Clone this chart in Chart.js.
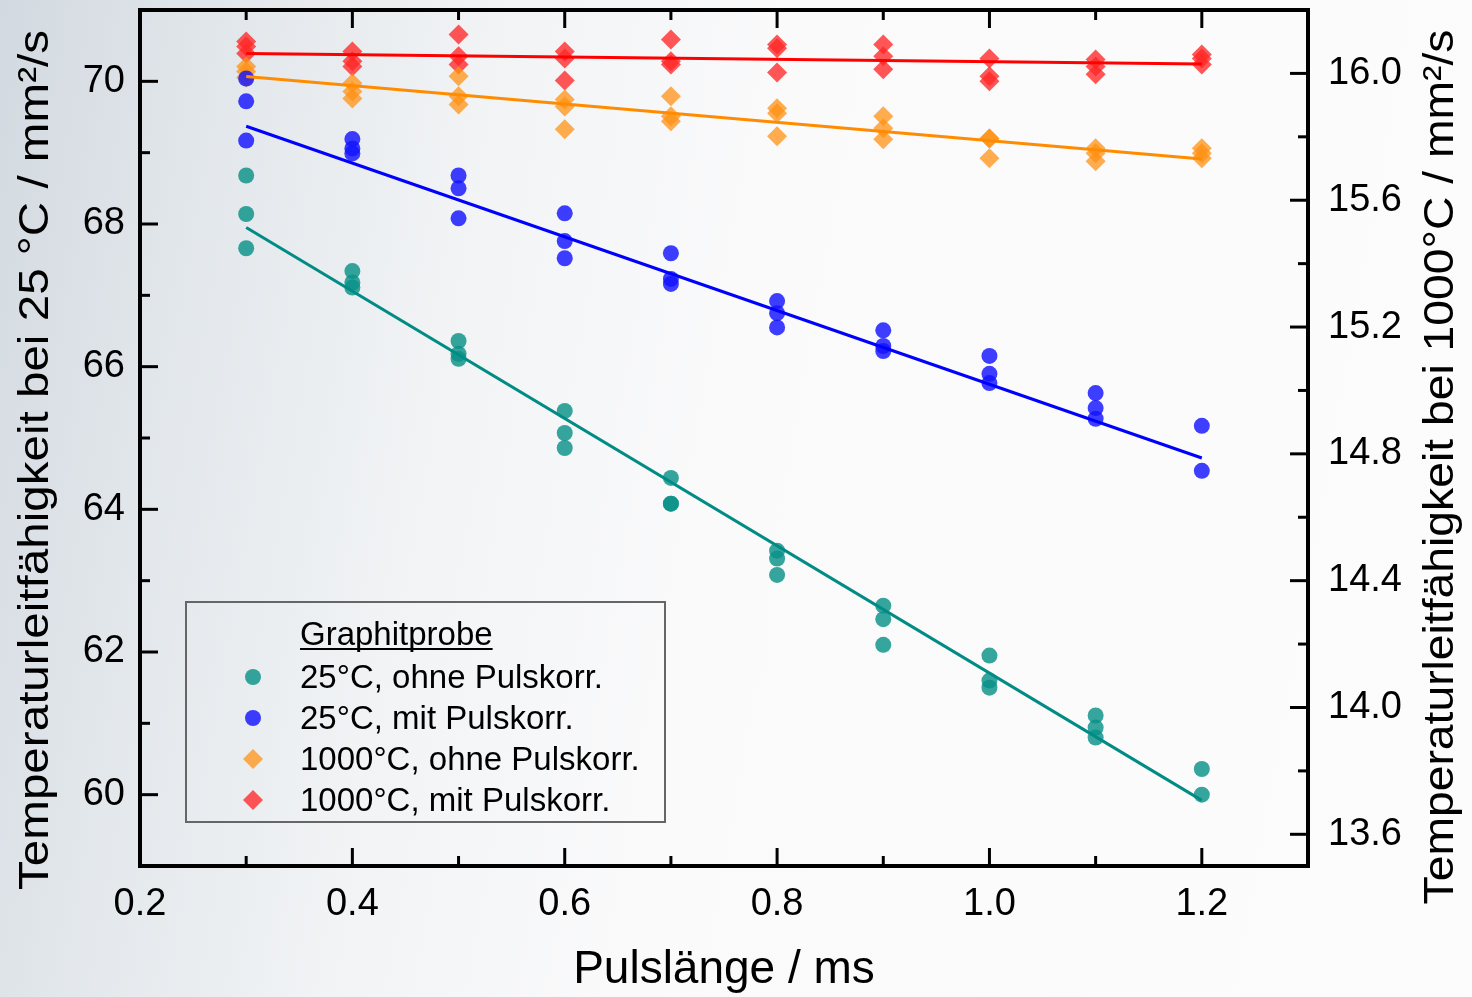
<!DOCTYPE html>
<html>
<head>
<meta charset="utf-8">
<script src="https://cdn.jsdelivr.net/npm/chart.js@4.4.1/dist/chart.umd.min.js"></script>
<style>
  html, body { margin: 0; padding: 0; }
  body {
    width: 1472px; height: 997px; overflow: hidden;
    background: linear-gradient(100deg, #d2d9e0 0%, #e2e7eb 14%, #f1f3f5 30%, #fafafb 48%, #fcfcfc 100%);
  }
  #wrap { position: relative; width: 1472px; height: 997px; }
</style>
</head>
<body>
<div id="wrap"><canvas id="tlfChart" width="1472" height="997"></canvas></div>
<script>
// Pulslängen (ms) der Messungen
const pulseLengths = [0.3, 0.4, 0.5, 0.6, 0.7, 0.8, 0.9, 1.0, 1.1, 1.2];

// 25°C (linke Achse), je Pulslänge die Einzelmessungen
const rtOhne = [
  [68.68, 68.14, 67.66], [67.34, 67.18, 67.11], [66.36, 66.18, 66.11], [65.38, 65.07, 64.86],
  [64.44, 64.08, 64.08], [63.42, 63.31, 63.08], [62.65, 62.46, 62.10], [61.95, 61.60, 61.50],
  [61.11, 60.94, 60.80], [60.36, 60.00]
];
const rtMit = [
  [70.04, 69.72, 69.17], [69.19, 69.06, 68.99], [68.68, 68.50, 68.08], [68.15, 67.76, 67.52],
  [67.59, 67.23, 67.16], [66.92, 66.75, 66.55], [66.51, 66.29, 66.22], [66.15, 65.90, 65.77],
  [65.63, 65.42, 65.27], [65.17, 64.54]
];

// 1000°C (rechte Achse)
const htOhne = [
  [16.022, 16.006, 15.987], [15.969, 15.943, 15.921], [15.991, 15.928, 15.902], [15.918, 15.896, 15.824],
  [15.928, 15.865, 15.849], [15.890, 15.874, 15.802], [15.865, 15.827, 15.792], [15.795, 15.795, 15.732],
  [15.764, 15.748, 15.723], [15.764, 15.748, 15.732]
];
const htMit = [
  [16.101, 16.085, 16.063], [16.069, 16.038, 16.022], [16.123, 16.054, 16.028], [16.069, 16.047, 15.978],
  [16.107, 16.038, 16.028], [16.091, 16.079, 16.003], [16.091, 16.054, 16.013], [16.047, 15.991, 15.975],
  [16.044, 16.022, 15.997], [16.060, 16.047, 16.028]
];

// Ausgleichsgeraden (Endpunkte)
const fitX = [0.3, 1.2];
const fitRtOhne = [67.95, 59.92];
const fitRtMit = [69.37, 64.72];
const fitHtOhne = [15.99, 15.73];
const fitHtMit = [16.063, 16.03];

// Achsen
const xTicks = [0.2, 0.4, 0.6, 0.8, 1.0, 1.2];
const xMinor = [0.3, 0.5, 0.7, 0.9, 1.1];
const leftTicks = [60, 62, 64, 66, 68, 70];
const leftMinor = [61, 63, 65, 67, 69];
const rightTicks = [13.6, 14.0, 14.4, 14.8, 15.2, 15.6, 16.0];
const rightMinor = [13.8, 14.2, 14.6, 15.0, 15.4, 15.8];

const xTitle = "Pulslänge / ms";
const yLeftTitle = "Temperaturleitfähigkeit bei 25 °C / mm²/s";
const yRightTitle = "Temperaturleitfähigkeit bei 1000°C / mm²/s";
const legendTitle = "Graphitprobe";

const FONT = '"Liberation Sans", Arial, sans-serif';

const toPoints = (groups) => pulseLengths.flatMap((x, i) => groups[i].map((y) => ({ x, y })));
const toLine = (ys) => fitX.map((x, i) => ({ x, y: ys[i] }));

const frameAndTicks = {
  id: "frameAndTicks",
  afterDatasetsDraw(chart) {
    const { ctx, chartArea: a, scales } = chart;
    ctx.save();
    ctx.strokeStyle = "#000";
    ctx.lineWidth = 3;
    const line = (x1, y1, x2, y2) => {
      ctx.beginPath();
      ctx.moveTo(x1, y1);
      ctx.lineTo(x2, y2);
      ctx.stroke();
    };
    xTicks.forEach((v) => {
      const px = scales.x.getPixelForValue(v);
      line(px, a.bottom, px, a.bottom - 18);
      line(px, a.top, px, a.top + 18);
    });
    xMinor.forEach((v) => {
      const px = scales.x.getPixelForValue(v);
      line(px, a.bottom, px, a.bottom - 10);
      line(px, a.top, px, a.top + 10);
    });
    leftTicks.forEach((v) => {
      const py = scales.yL.getPixelForValue(v);
      line(a.left, py, a.left + 18, py);
    });
    leftMinor.forEach((v) => {
      const py = scales.yL.getPixelForValue(v);
      line(a.left, py, a.left + 10, py);
    });
    rightTicks.forEach((v) => {
      const py = scales.yR.getPixelForValue(v);
      line(a.right, py, a.right - 18, py);
    });
    rightMinor.forEach((v) => {
      const py = scales.yR.getPixelForValue(v);
      line(a.right, py, a.right - 10, py);
    });
    ctx.lineWidth = 4;
    ctx.strokeRect(a.left, a.top, a.right - a.left, a.bottom - a.top);
    ctx.restore();
  },
};

const axisTitles = {
  id: "axisTitles",
  afterDraw(chart) {
    const { ctx, chartArea: a } = chart;
    const stretched = (text, size, length) => {
      ctx.font = size + "px " + FONT;
      const w = ctx.measureText(text).width;
      ctx.scale(length / w, 1);
      ctx.fillText(text, 0, 0);
    };
    ctx.save();
    ctx.fillStyle = "#000";
    ctx.textAlign = "center";
    ctx.textBaseline = "alphabetic";
    ctx.font = "46px " + FONT;
    ctx.fillText(xTitle, (a.left + a.right) / 2, 983);
    ctx.restore();

    ctx.save();
    ctx.fillStyle = "#000";
    ctx.textAlign = "center";
    ctx.translate(48, 460);
    ctx.rotate(-Math.PI / 2);
    stretched(yLeftTitle, 42, 860);
    ctx.restore();

    ctx.save();
    ctx.fillStyle = "#000";
    ctx.textAlign = "center";
    ctx.translate(1453, 467);
    ctx.rotate(-Math.PI / 2);
    stretched(yRightTitle, 42, 875);
    ctx.restore();
  },
};

const boxLegend = {
  id: "boxLegend",
  afterDraw(chart) {
    const { ctx } = chart;
    ctx.save();
    ctx.strokeStyle = "#666";
    ctx.lineWidth = 2;
    ctx.strokeRect(186, 602, 479, 220);
    ctx.fillStyle = "#000";
    ctx.font = "33px " + FONT;
    ctx.textBaseline = "alphabetic";
    ctx.textAlign = "left";
    ctx.fillText(legendTitle, 300, 645);
    const tw = ctx.measureText(legendTitle).width;
    ctx.fillRect(300, 648, tw, 2);
    chart.data.datasets
      .filter((ds) => !ds.showLine)
      .forEach((ds, i) => {
        const cy = 677 + i * 41;
        ctx.fillStyle = ds.pointBackgroundColor;
        ctx.beginPath();
        if (ds.pointStyle === "rectRot") {
          const r = ds.pointRadius;
          ctx.moveTo(253 - r, cy);
          ctx.lineTo(253, cy - r);
          ctx.lineTo(253 + r, cy);
          ctx.lineTo(253, cy + r);
          ctx.closePath();
        } else {
          ctx.arc(253, cy, ds.pointRadius, 0, Math.PI * 2);
        }
        ctx.fill();
        ctx.fillStyle = "#000";
        ctx.fillText(ds.label, 300, cy + 11);
      });
    ctx.restore();
  },
};

const scatterSet = (label, data, axis, color, style, radius) => ({
  label,
  data,
  yAxisID: axis,
  showLine: false,
  pointStyle: style,
  pointRadius: radius,
  pointHoverRadius: radius,
  pointBackgroundColor: color,
  pointBorderWidth: 0,
  order: 2,
});

const fitSet = (data, axis, color) => ({
  label: "fit",
  data,
  yAxisID: axis,
  showLine: true,
  borderColor: color,
  borderWidth: 3,
  pointRadius: 0,
  pointHoverRadius: 0,
  fill: false,
  order: 1,
});

// keine automatischen Randabstände, Plotbereich fest
const fixV = (w) => (s) => { s.width = w; s.paddingTop = 0; s.paddingBottom = 0; };
const fixH = (h) => (s) => { s.height = h; s.paddingLeft = 0; s.paddingRight = 0; };

const ctx = document.getElementById("tlfChart").getContext("2d");
new Chart(ctx, {
  type: "scatter",
  data: {
    datasets: [
      scatterSet("25°C, ohne Pulskorr.", toPoints(rtOhne), "yL", "rgba(10,145,136,0.82)", "circle", 8),
      scatterSet("25°C, mit Pulskorr.", toPoints(rtMit), "yL", "rgba(20,20,255,0.82)", "circle", 8),
      scatterSet("1000°C, ohne Pulskorr.", toPoints(htOhne), "yR", "rgba(255,145,20,0.75)", "rectRot", 10),
      scatterSet("1000°C, mit Pulskorr.", toPoints(htMit), "yR", "rgba(255,40,40,0.78)", "rectRot", 10),
      fitSet(toLine(fitRtOhne), "yL", "#008c84"),
      fitSet(toLine(fitRtMit), "yL", "#0000ff"),
      fitSet(toLine(fitHtOhne), "yR", "#ff8c00"),
      fitSet(toLine(fitHtMit), "yR", "#ff0000"),
    ],
  },
  options: {
    responsive: false,
    animation: false,
    devicePixelRatio: 1,
    layout: { padding: { top: 10, left: 0, right: 0, bottom: 0 } },
    plugins: {
      legend: { display: false },
      tooltip: { enabled: false },
    },
    scales: {
      x: {
        type: "linear",
        position: "bottom",
        min: 0.2,
        max: 1.3,
        afterBuildTicks: (s) => { s.ticks = xTicks.map((v) => ({ value: v })); },
        afterFit: fixH(131),
        grid: { display: false, drawTicks: false },
        border: { display: false },
        ticks: {
          autoSkip: false,
          maxRotation: 0,
          padding: 16,
          color: "#000",
          font: { family: FONT, size: 38 },
          callback: (v) => Number(v).toFixed(1),
        },
      },
      yL: {
        type: "linear",
        position: "left",
        min: 59,
        max: 71,
        afterBuildTicks: (s) => { s.ticks = leftTicks.map((v) => ({ value: v })); },
        afterFit: fixV(140),
        grid: { display: false, drawTicks: false },
        border: { display: false },
        ticks: {
          padding: 15,
          color: "#000",
          font: { family: FONT, size: 38 },
          callback: (v) => Number(v).toFixed(0),
        },
      },
      yR: {
        type: "linear",
        position: "right",
        min: 13.5,
        max: 16.2,
        afterBuildTicks: (s) => { s.ticks = rightTicks.map((v) => ({ value: v })); },
        afterFit: fixV(164),
        grid: { display: false, drawTicks: false },
        border: { display: false },
        ticks: {
          padding: 20,
          color: "#000",
          font: { family: FONT, size: 38 },
          callback: (v) => Number(v).toFixed(1),
        },
      },
    },
  },
  plugins: [frameAndTicks, axisTitles, boxLegend],
});
</script>
</body>
</html>
